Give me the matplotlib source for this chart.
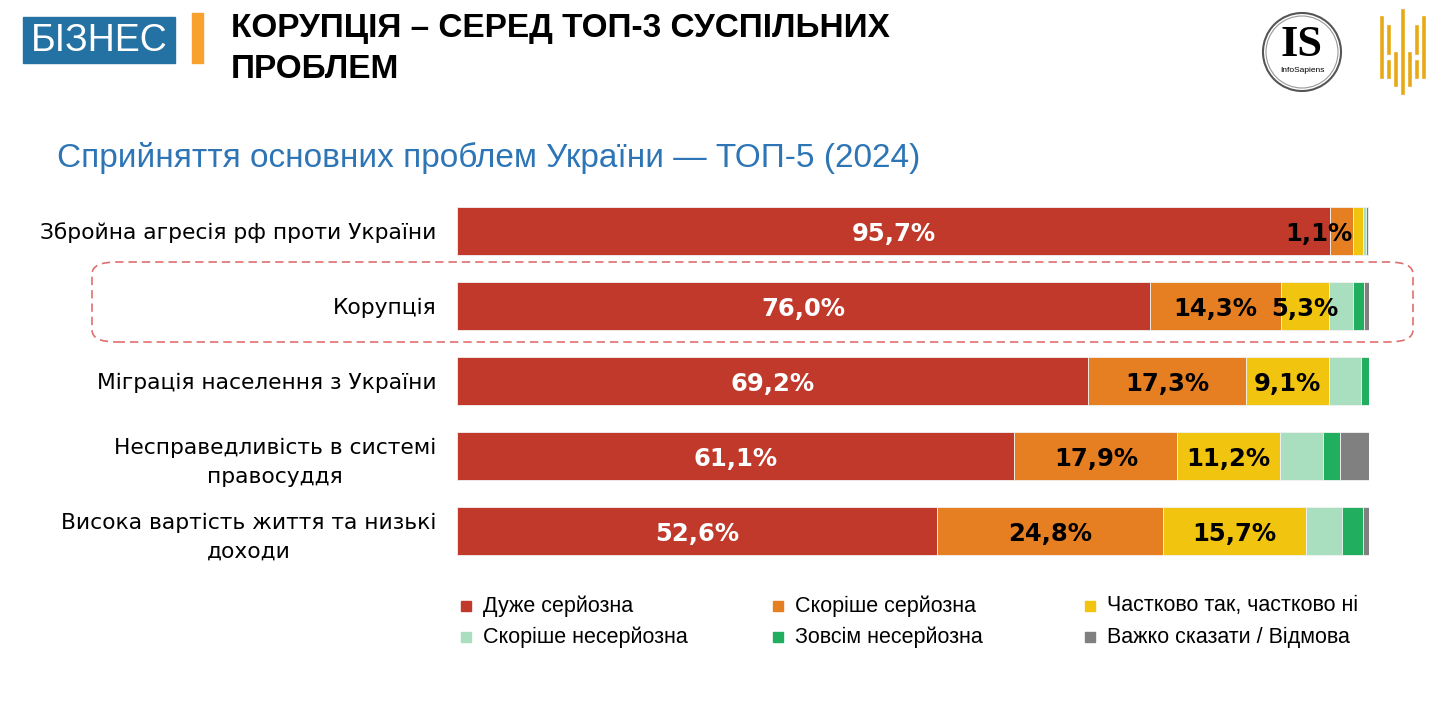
import numpy as np
import matplotlib.pyplot as plt
from matplotlib.patches import FancyBboxPatch, Rectangle, Ellipse

# Data
categories = [
    "Збройна агресія рф проти України",
    "Корупція",
    "Міграція населення з України",
    "Несправедливість в системі\nправосуддя",
    "Висока вартість життя та низькі\nдоходи",
]
series_names = [
    "Дуже серйозна", "Скоріше серйозна", "Частково так, частково ні",
    "Скоріше несерйозна", "Зовсім несерйозна", "Важко сказати / Відмова",
]
very_serious = [95.7, 76.0, 69.2, 61.1, 52.6]
rather_serious = [2.5, 14.3, 17.3, 17.9, 24.8]
partly = [1.1, 5.3, 9.1, 11.2, 15.7]
rather_not = [0.4, 2.7, 3.5, 4.8, 3.9]
not_at_all = [0.2, 1.1, 0.9, 1.8, 2.3]
hard_to_say = [0.1, 0.6, 0.0, 3.2, 0.7]
show_label = [
    [True, False, True, False, False, False],
    [True, True, True, False, False, False],
    [True, True, True, False, False, False],
    [True, True, True, False, False, False],
    [True, True, True, False, False, False],
]

colors = ["#C0392B", "#E67E22", "#F1C40F", "#A9DFBF", "#22AE5F", "#808080"]
label_colors = ["white", "black", "black", "black", "black", "black"]

W, H = 1448, 712
fig = plt.figure(figsize=(W / 100, H / 100), dpi=100)

# bar area
ax = fig.add_axes([457 / W, 1 - 568.5 / H, 912 / W, 375 / H])
values = np.array([very_serious, rather_serious, partly, rather_not, not_at_all, hard_to_say])
y = np.arange(len(categories))
left = np.zeros(len(categories))
for i in range(len(series_names)):
    ax.barh(y, values[i], left=left, height=0.64, color=colors[i],
            edgecolor="#f2f2f2", linewidth=0.6)
    for j in range(len(categories)):
        if not show_label[j][i]:
            continue
        txt = f"{values[i][j]:.1f}%".replace(".", ",")
        if values[i][j] < 3:
            ax.text(left[j], y[j] + 0.04, txt, ha="right", va="center",
                    color=label_colors[i], fontsize=17.5, fontweight="bold",
                    family="DejaVu Sans")
        else:
            ax.text(left[j] + values[i][j] / 2, y[j] + 0.04, txt, ha="center",
                    va="center", color=label_colors[i], fontsize=17.5,
                    fontweight="bold", family="DejaVu Sans")
    left += values[i]

ax.set_xlim(0, 100)
ax.set_ylim(len(categories) - 0.5, -0.5)
ax.set_yticks(y)
ax.set_yticklabels(categories, fontsize=15.7, family="DejaVu Sans",
                   multialignment="center", linespacing=1.55)
ax.tick_params(axis="y", length=0, pad=15)
ax.set_xticks([])
for s in ax.spines.values():
    s.set_visible(False)

# dashed highlight around Корупція
box = FancyBboxPatch((92 / W, 1 - 342 / H), (1413 - 92) / W, 80 / H,
                     boxstyle="round,pad=0,rounding_size=0.017",
                     transform=fig.transFigure, fill=False,
                     edgecolor="#E07070", linestyle=(0, (5, 3)), linewidth=1.2)
fig.patches.append(box)

# header
fig.patches.append(Rectangle((23 / W, 1 - 63 / H), 152 / W, 46 / H,
                             transform=fig.transFigure, color="#2471A3"))
fig.text(99 / W, 1 - 41 / H, "БІЗНЕС", color="white", fontsize=27,
         family="Liberation Sans", va="center", ha="center")
fig.patches.append(Rectangle((192 / W, 1 - 63 / H), 11 / W, 50 / H,
                             transform=fig.transFigure, color="#F9A12E"))
fig.text(231 / W, 1 - 29 / H, "КОРУПЦІЯ – СЕРЕД ТОП-3 СУСПІЛЬНИХ", fontsize=24,
         fontweight="bold", family="Liberation Sans", va="center")
fig.text(231 / W, 1 - 69 / H, "ПРОБЛЕМ", fontsize=24,
         fontweight="bold", family="Liberation Sans", va="center")
fig.text(57 / W, 1 - 158 / H, "Сприйняття основних проблем України — ТОП-5 (2024)",
         fontsize=24, color="#2E75B6", family="Liberation Sans", va="center")

# logos
fig.patches.append(Ellipse((1302 / W, 1 - 52 / H), 78 / W, 78 / H,
                           transform=fig.transFigure, fill=False,
                           edgecolor="#555555", linewidth=1.5))
fig.patches.append(Ellipse((1302 / W, 1 - 52 / H), 72 / W, 72 / H,
                           transform=fig.transFigure, fill=False,
                           edgecolor="#999999", linewidth=0.8))
fig.text(1302 / W, 1 - 45 / H, "IS", fontsize=32, fontweight="bold",
         family="Liberation Serif", ha="center", va="center")
fig.text(1302 / W, 1 - 71 / H, "InfoSapiens", fontsize=6, family="Liberation Sans",
         ha="center", va="center")
gold = "#E8A917"
trident = [(1382, 18, 77), (1389, 27, 53), (1389, 62, 77), (1396, 54, 85),
           (1403, 11, 93), (1410, 54, 85), (1417, 27, 53), (1417, 62, 77),
           (1424, 18, 77)]
for x0, y0, y1 in trident:
    fig.add_artist(plt.Line2D([x0 / W, x0 / W], [1 - y0 / H, 1 - y1 / H],
                              transform=fig.transFigure, color=gold, linewidth=2.6))

# legend
for i, name in enumerate(series_names):
    col, row = i % 3, i // 3
    lx = 466 + col * 312
    ly = 606 + row * 31
    fig.patches.append(Rectangle(((lx - 5) / W, 1 - (ly + 5) / H), 10 / W, 10 / H,
                                 transform=fig.transFigure, color=colors[i]))
    fig.text((lx + 17) / W, 1 - ly / H, name, fontsize=15.5,
             family="Liberation Sans", va="center")

fig.savefig("out.png", dpi=100, facecolor="white")
